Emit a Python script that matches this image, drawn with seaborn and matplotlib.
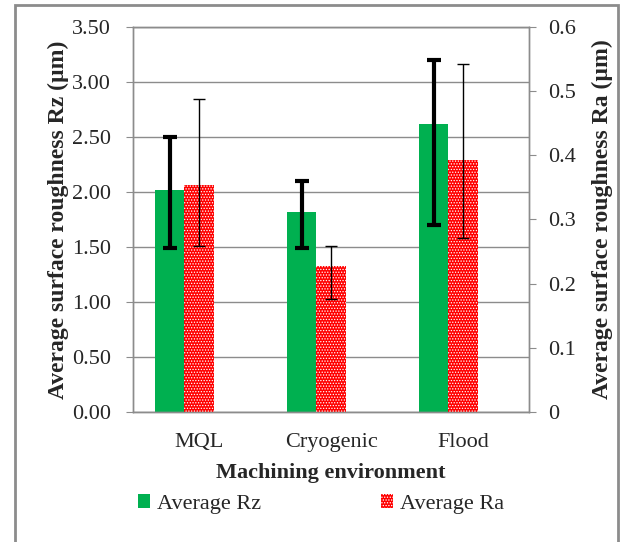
import numpy as np
import pandas as pd
import matplotlib
matplotlib.use("Agg")
import matplotlib.pyplot as plt
import seaborn as sns
from matplotlib.patches import Patch, Rectangle

# data
envs = ["MQL", "Cryogenic", "Flood"]
rz_mean = [2.02, 1.82, 2.62]
rz_low = [1.49, 1.49, 1.70]
rz_high = [2.50, 2.10, 3.20]
ra_mean = [0.354, 0.228, 0.392]
ra_low = [0.258, 0.176, 0.271]
ra_high = [0.488, 0.258, 0.543]

rz_ticks = [0.0, 0.5, 1.0, 1.5, 2.0, 2.5, 3.0, 3.5]
ra_ticks = [0, 0.1, 0.2, 0.3, 0.4, 0.5, 0.6]

green = "#00B050"
red = "#FF0000"
grey = "#8C8C8C"

sns.set_style("white")
plt.rcParams["font.family"] = ["Liberation Serif", "DejaVu Serif"]
plt.rcParams["hatch.linewidth"] = 0.6

df = pd.DataFrame({"env": envs, "rz": rz_mean, "ra": ra_mean})

fig = plt.figure(figsize=(6.2, 5.42), dpi=100)
ax = fig.add_axes([133 / 620, 1 - 412 / 542, 396 / 620, 385 / 542])

bw = 0.22
sns.barplot(data=df, x="env", y="rz", color=green, width=bw, saturation=1,
            linewidth=0, ax=ax, zorder=2)
# shift Rz bars left of category centre (Excel secondary-axis look)
for p in ax.patches:
    p.set_x(p.get_x() - bw)

ax2 = ax.twinx()
sns.barplot(data=df, x="env", y="ra", color=red, width=bw, saturation=1,
            hatch="......", edgecolor="white", linewidth=0, ax=ax2, zorder=2)

xpos = np.arange(len(envs))
rz_err = [np.array(rz_mean) - np.array(rz_low), np.array(rz_high) - np.array(rz_mean)]
ra_err = [np.array(ra_mean) - np.array(ra_low), np.array(ra_high) - np.array(ra_mean)]
ax.errorbar(xpos - bw, rz_mean, yerr=rz_err, fmt="none", ecolor="black",
            elinewidth=3, capsize=5, capthick=3, zorder=5)
ax2.errorbar(xpos, ra_mean, yerr=ra_err, fmt="none", ecolor="black",
             elinewidth=1, capsize=4.5, capthick=1, zorder=5)

ax.set_xlim(-0.5, 2.5)
ax.set_ylim(0, 3.5)
ax2.set_ylim(0, 0.6)
ax.set_yticks(rz_ticks)
ax.set_yticklabels([f"{t:.2f}" for t in rz_ticks])
ax2.set_yticks(ra_ticks)
ax2.set_yticklabels(["0"] + [f"{t:.1f}" for t in ra_ticks[1:]])

ax.yaxis.grid(True, color=grey, linewidth=1)
ax.set_axisbelow(True)
for a in (ax, ax2):
    for s in a.spines.values():
        s.set_color(grey)
        s.set_linewidth(1)
ax.spines["top"].set_visible(True)

ax.tick_params(axis="y", length=5, color=grey, labelsize=16, pad=11)
ax2.tick_params(axis="y", length=5, color=grey, labelsize=16, pad=9)
ax.set_xticks([0.5, 1.5], minor=True)
ax.tick_params(axis="x", which="major", length=0, labelsize=16, pad=15)
ax.tick_params(axis="x", which="minor", length=5, color=grey)

ax.set_xlabel("Machining environment", fontsize=16, fontweight="bold", labelpad=8)
ax.set_ylabel("Average surface roughness Rz (\u00b5m)", fontsize=17,
              fontweight="bold", labelpad=2)
ax2.set_ylabel("Average surface roughness Ra (\u00b5m)", fontsize=17,
               fontweight="bold", labelpad=11)
ax2.set_xlabel("")

handles = [Patch(facecolor=green, edgecolor="none", label="Average Rz"),
           Patch(facecolor=red, hatch="......", edgecolor="white", linewidth=0,
                 label="Average Ra")]
fig.legend(handles=handles, loc="center", bbox_to_anchor=(321 / 620, 1 - 504 / 542),
           ncol=2, frameon=False, fontsize=16, handlelength=0.55, handleheight=0.55,
           handletextpad=0.3, columnspacing=5.4)

# outer chart-area frame
fig.patches.append(Rectangle((15 / 620, -0.05), 603 / 620, 1.05 - 5 / 542,
                             transform=fig.transFigure, fill=False,
                             edgecolor=grey, linewidth=2))

fig.savefig("out.png", dpi=100)
